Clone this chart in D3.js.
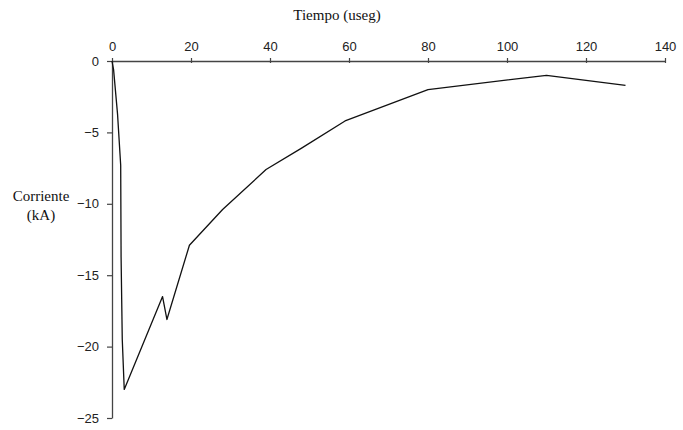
<!DOCTYPE html>
<html>
<head>
<meta charset="utf-8">
<script src="https://cdn.jsdelivr.net/npm/d3@7"></script>
<style>
  body { margin: 0; background: #fff; }
  .tick text { font-family: "Liberation Sans Narrow", "Liberation Sans", Arial, sans-serif; font-size: 13px; fill: #222; }
  .titulo { font-family: "Liberation Serif", "Times New Roman", serif; font-size: 15px; fill: #111; }
</style>
</head>
<body>
<div id="chart"></div>
<script>
// datos
const tiempo = [0, 0.4, 1.4, 2.2, 2.3, 2.6, 3.1, 12.8, 13.9, 19.6, 28, 39, 48, 59, 80, 110, 130];
const corriente = [0, -0.6, -3.7, -7.3, -13.7, -19.5, -23.0, -16.5, -18.1, -12.9, -10.4, -7.6, -6.1, -4.2, -2.0, -1.0, -1.7];
const xTicks = [0, 20, 40, 60, 80, 100, 120, 140];
const yTicks = [0, -5, -10, -15, -20, -25];

const width = 683, height = 430;
const margin = {top: 61, right: 18, bottom: 12, left: 112};

let svg = d3.select("#chart").append("svg")
    .attr("width", width)
    .attr("height", height);

let x = d3.scaleLinear().domain([0, 140]).range([margin.left, 665]);
let y = d3.scaleLinear().domain([0, -25]).range([margin.top, 418]);

// eje x arriba
let xAxis = svg.append("g")
    .attr("transform", "translate(0," + margin.top + ")")
    .call(d3.axisTop(x).tickValues(xTicks).tickSize(-4).tickPadding(10).tickSizeOuter(0));

// eje y
let yAxis = svg.append("g")
    .attr("transform", "translate(" + margin.left + ",0)")
    .call(d3.axisLeft(y).tickValues(yTicks).tickSize(5).tickPadding(8).tickSizeOuter(0));

svg.selectAll(".domain").attr("stroke", "#444").attr("stroke-width", 1.3);
svg.selectAll(".tick line").attr("stroke", "#444").attr("stroke-width", 1.2);
xAxis.selectAll(".tick line").attr("y1", -3).attr("y2", 2);

// curva
let line = d3.line()
    .x((d, i) => x(tiempo[i]))
    .y(d => y(d));

svg.append("path")
    .datum(corriente)
    .attr("fill", "none")
    .attr("stroke", "#111")
    .attr("stroke-width", 1.3)
    .attr("stroke-linejoin", "round")
    .attr("d", line);

// titulos
svg.append("text").attr("class", "titulo")
    .attr("x", 337).attr("y", 20)
    .attr("text-anchor", "middle")
    .text("Tiempo (useg)");

svg.append("text").attr("class", "titulo")
    .attr("x", 41).attr("y", 201)
    .attr("text-anchor", "middle")
    .text("Corriente");
svg.append("text").attr("class", "titulo")
    .attr("x", 41).attr("y", 220)
    .attr("text-anchor", "middle")
    .text("(kA)");
</script>
</body>
</html>
